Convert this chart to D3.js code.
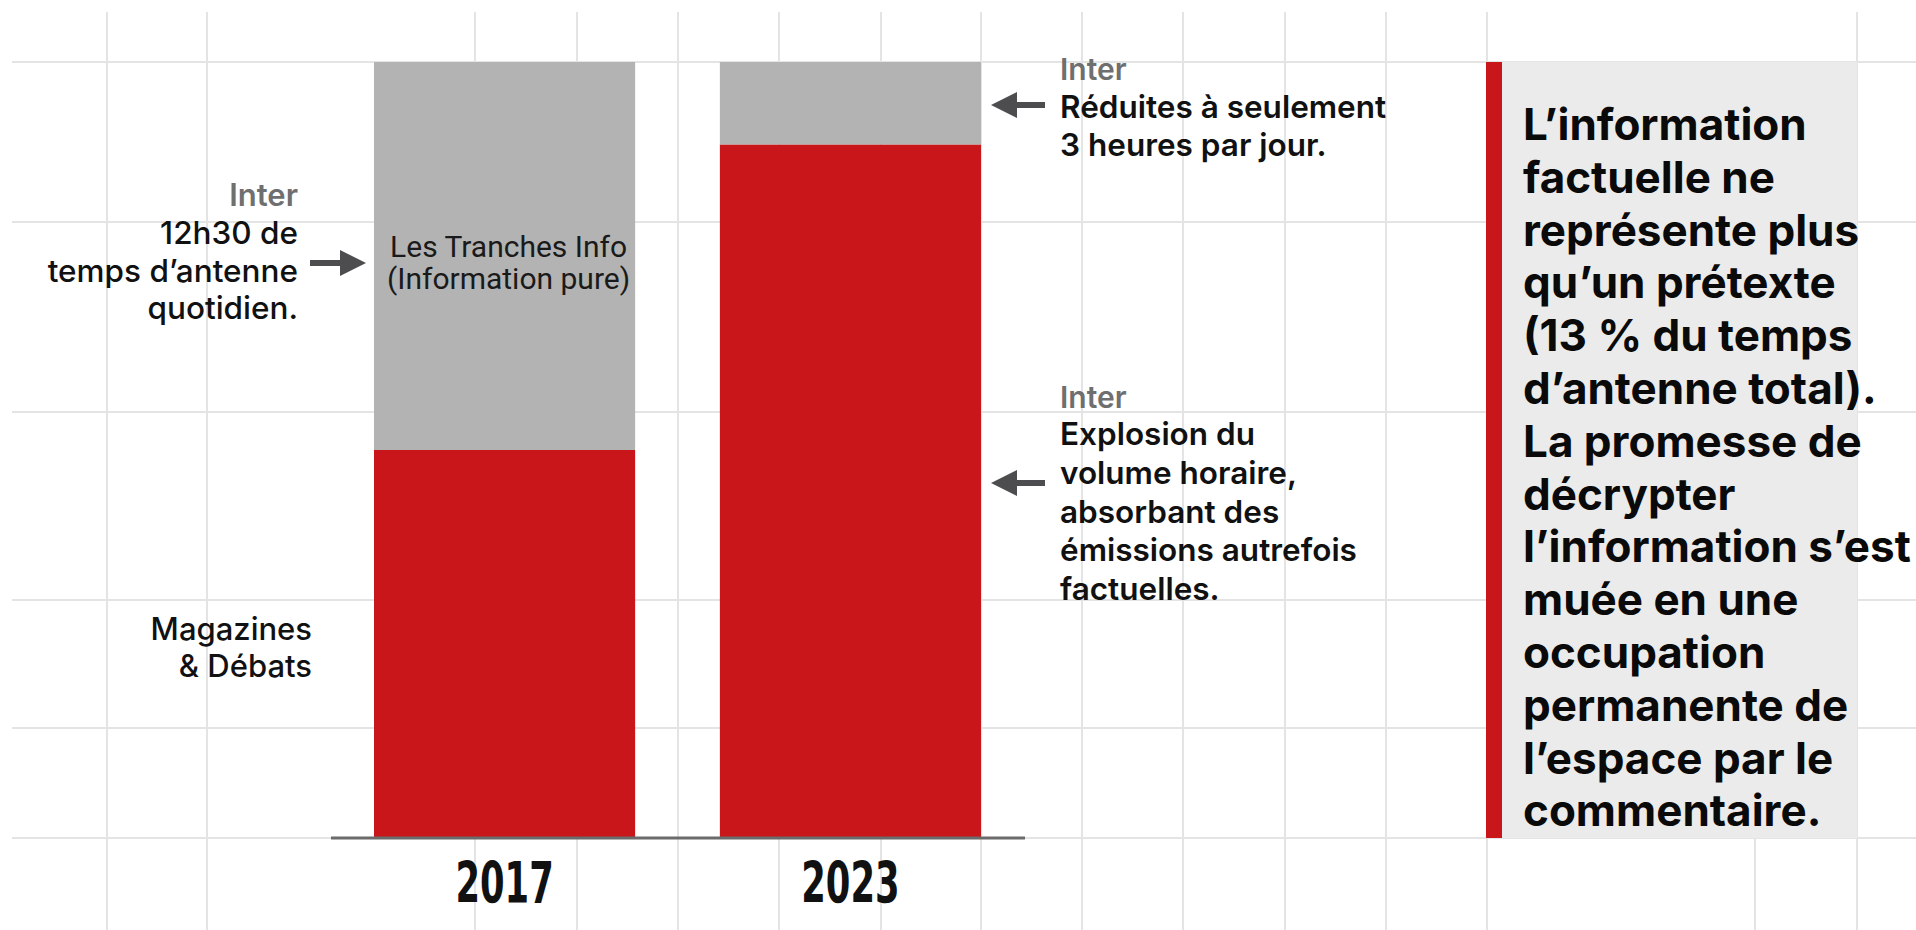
<!DOCTYPE html>
<html lang="fr">
<head>
<meta charset="utf-8">
<title>Inter : information vs commentaire</title>
<script src="https://d3js.org/d3.v7.min.js"></script>
<style>
  body { margin: 0; background: #fff; }
  svg text { font-family: Inter, "Noto Sans", sans-serif; }
</style>
</head>
<body>
<script>
// --- data (heures d'antenne par jour) ---
var years = ["2017", "2023"];
var infoHours = [12.0, 2.55];      // Les Tranches Info (gris)
var commentHours = [12.0, 21.45];  // Magazines & Débats (rouge)
var seriesKeys = ["commentaire", "info"];
var seriesColors = ["#c8161a", "#b3b3b3"];

var boxLines = [
  "L’information",
  "factuelle ne",
  "représente plus",
  "qu’un prétexte",
  "(13 % du temps",
  "d’antenne total).",
  "La promesse de",
  "décrypter",
  "l’information s’est",
  "muée en une",
  "occupation",
  "permanente de",
  "l’espace par le",
  "commentaire."
];
var leftNote = ["12h30 de", "temps d’antenne", "quotidien."];
var bottomNote = ["Magazines", "& Débats"];
var infoLabel = ["Les Tranches Info", "(Information pure)"];
var noteTop = ["Réduites à seulement", "3 heures par jour."];
var noteBottom = ["Explosion du", "volume horaire,", "absorbant des", "émissions autrefois", "factuelles."];

// --- layout ---
var w = 1916, h = 930;
var plotTop = 62, plotBottom = 838;
var gridX = [107, 207, 475, 577, 678, 779, 881, 981, 1082, 1183, 1285, 1386, 1487, 1857];
var gridY = [62, 222, 412, 600, 728, 838];

var rows = years.map(function(y, i) {
  return {year: y, commentaire: commentHours[i], info: infoHours[i]};
});
var stacked = d3.stack().keys(seriesKeys)(rows);

var x = d3.scaleBand().domain(years).range([374, 981]).paddingInner(0.245);
var y = d3.scaleLinear().domain([0, 24]).range([plotBottom, plotTop]);

var svg = d3.select("body").append("svg").attr("width", w).attr("height", h);
svg.append("rect").attr("width", w).attr("height", h).attr("fill", "#fff");

// grid
var grid = svg.append("g").attr("stroke", "#e4e4e4").attr("stroke-width", 2);
grid.selectAll("line.gx").data(gridX).enter().append("line")
  .attr("x1", function(d) { return d; }).attr("x2", function(d) { return d; })
  .attr("y1", 12).attr("y2", h);
grid.append("line").attr("x1", 1755).attr("x2", 1755).attr("y1", plotBottom).attr("y2", h);
grid.selectAll("line.gy").data(gridY).enter().append("line")
  .attr("x1", 12).attr("x2", w)
  .attr("y1", function(d) { return d; }).attr("y2", function(d) { return d; });

// bars
svg.append("g").selectAll("g").data(stacked).enter().append("g")
  .attr("fill", function(d, i) { return seriesColors[i]; })
  .selectAll("rect").data(function(d) { return d; }).enter().append("rect")
  .attr("x", function(d) { return x(d.data.year); })
  .attr("width", x.bandwidth())
  .attr("y", function(d) { return y(d[1]); })
  .attr("height", function(d) { return y(d[0]) - y(d[1]); });

// baseline + years
svg.append("line")
  .attr("x1", x.range()[0] - 43).attr("x2", x.range()[1] + 44)
  .attr("y1", plotBottom).attr("y2", plotBottom)
  .attr("stroke", "#6b6b6b").attr("stroke-width", 3);

// condensed bold year labels (font squeezed horizontally)
svg.append("g").selectAll("text").data(years).enter().append("text")
  .attr("transform", function(d) {
    return "translate(" + (x(d) + x.bandwidth() / 2) + ",903) scale(0.62,1)";
  })
  .attr("text-anchor", "middle")
  .style("font-family", "'DejaVu Sans', sans-serif")
  .style("font-weight", 700).style("font-size", "57px").attr("fill", "#111")
  .text(function(d) { return d; });

// label inside the grey 2017 segment
svg.append("g").selectAll("text").data(infoLabel).enter().append("text")
  .attr("x", x("2017") + x.bandwidth() / 2 + 4)
  .attr("y", function(d, i) { return 257 + i * 32; })
  .attr("text-anchor", "middle")
  .style("font-family", "Roboto, sans-serif").style("font-size", "30px")
  .attr("fill", "#1a1a1a")
  .text(function(d) { return d; });

function arrow(x1, x2, yy) {
  // x1 = tail, x2 = tip
  var dir = x2 > x1 ? 1 : -1;
  var g = svg.append("g").attr("fill", "#4d4d4f");
  g.append("line").attr("x1", x1).attr("x2", x2 - dir * 20).attr("y1", yy).attr("y2", yy)
    .attr("stroke", "#4d4d4f").attr("stroke-width", 6);
  g.append("path").attr("d", "M" + x2 + "," + yy + "L" + (x2 - dir * 26) + "," + (yy - 13) +
    "L" + (x2 - dir * 26) + "," + (yy + 13) + "Z");
}

function block(lines, x0, y0, step, anchor, size, weight, fill) {
  svg.append("g").selectAll("text").data(lines).enter().append("text")
    .attr("x", x0)
    .attr("y", function(d, i) { return y0 + i * step; })
    .attr("text-anchor", anchor)
    .style("font-size", size + "px").style("font-weight", weight)
    .attr("fill", fill)
    .text(function(d) { return d; });
}

// left notes
block(["Inter"], 298, 206, 0, "end", 31, 600, "#6f6f6f");
block(leftNote, 298, 244, 37.5, "end", 31.5, 500, "#111");
arrow(310, 366, 263);
block(bottomNote, 312, 640, 37, "end", 31, 500, "#111");

// right notes
block(["Inter"], 1060, 80, 0, "start", 30, 600, "#6f6f6f");
block(noteTop, 1060, 118, 38, "start", 31.5, 600, "#111");
arrow(1045, 991, 105);
block(["Inter"], 1060, 408, 0, "start", 30, 600, "#6f6f6f");
block(noteBottom, 1060, 445, 38.8, "start", 31.5, 600, "#111");
arrow(1045, 991, 483);

// conclusion box
svg.append("rect").attr("x", 1502).attr("y", plotTop).attr("width", 1857 - 1502)
  .attr("height", plotBottom - plotTop).attr("fill", "#ebebeb");
svg.append("rect").attr("x", 1486).attr("y", plotTop).attr("width", 16)
  .attr("height", plotBottom - plotTop).attr("fill", "#c8161a");
block(boxLines, 1523, 140, 52.8, "start", 44, 700, "#0a0a0a");
</script>
</body>
</html>
